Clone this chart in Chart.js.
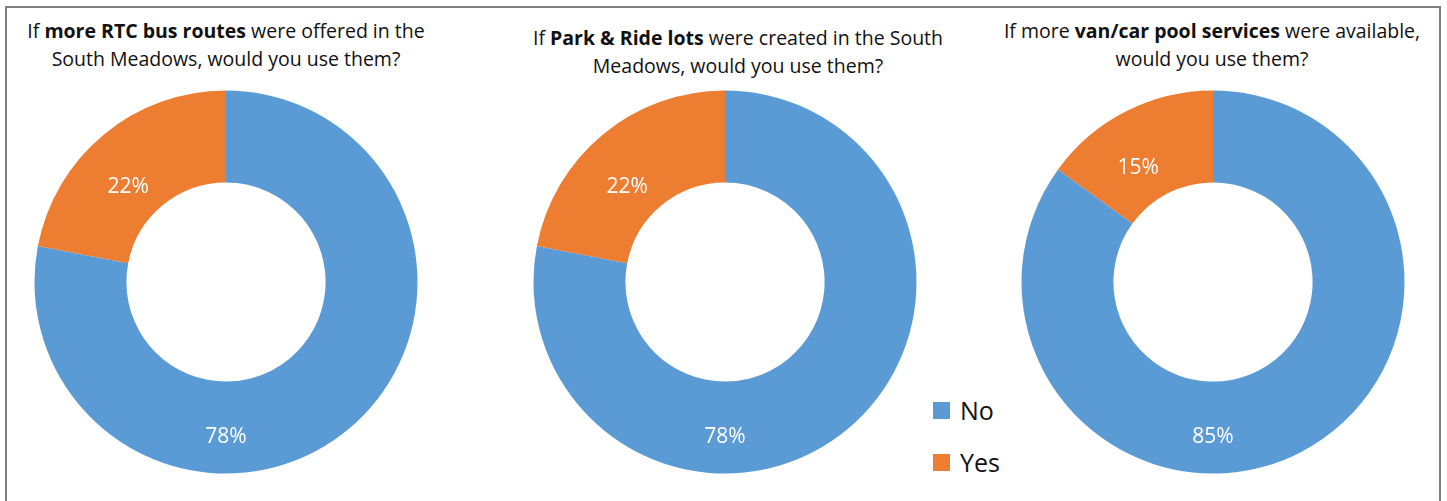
<!DOCTYPE html>
<html>
<head>
<meta charset="utf-8">
<script src="https://cdn.jsdelivr.net/npm/chart.js@4"></script>
<style>
  body { margin: 0; width: 1447px; height: 501px; overflow: hidden; background: #fff; font-family: "Open Sans", Lato, sans-serif; }
  #frame { position: absolute; left: 5px; top: 6px; width: 1436px; height: 510px; border: 2px solid #7f7f7f; box-sizing: border-box; }
  .pie { position: absolute; top: 87px; width: 390px; height: 390px; }
  .title { position: absolute; width: 500px; text-align: center; font-size: 19.5px; line-height: 28px; color: #111; }
  #legend { position: absolute; left: 933px; top: 384px; font-size: 25px; color: #111; }
  .item { display: flex; align-items: center; height: 52px; }
  .box { width: 17px; height: 17px; margin-right: 10px; }
</style>
</head>
<body>
<div id="frame"></div>
<div class="title" style="left:-24px; top:17px;">If <b>more RTC bus routes</b> were offered in the<br>South Meadows, would you use them?</div>
<div class="title" style="left:488px; top:24px;">If <b>Park &amp; Ride lots</b> were created in the South<br>Meadows, would you use them?</div>
<div class="title" style="left:962px; top:17px;">If more <b>van/car pool services</b> were available,<br>would you use them?</div>
<div class="pie" style="left:31px;"><canvas id="c1"></canvas></div>
<div class="pie" style="left:530px;"><canvas id="c2"></canvas></div>
<div class="pie" style="left:1018px;"><canvas id="c3"></canvas></div>
<div id="legend"></div>
<script>
const categories = ['No', 'Yes'];
const busRoutes = [78, 22];
const parkRide = [78, 22];
const carPool = [85, 15];
const colors = ['#5B9BD5', '#ED7D31'];

// white percentage labels in the ring
const ringLabels = {
    id: 'ringLabels',
    afterDatasetsDraw(chart) {
        const ctx = chart.ctx;
        const values = chart.data.datasets[0].data;
        ctx.save();
        ctx.fillStyle = '#fff';
        ctx.font = '21px "Open Sans", Lato, sans-serif';
        ctx.textAlign = 'center';
        ctx.textBaseline = 'middle';
        chart.getDatasetMeta(0).data.forEach(function (arc, i) {
            const p = arc.getProps(['x', 'y', 'startAngle', 'endAngle', 'innerRadius', 'outerRadius'], true);
            const big = values[i] > 50;
            const ang = big ? Math.PI / 2 : (p.startAngle + p.endAngle) / 2 - 0.11;
            const r = p.innerRadius + (p.outerRadius - p.innerRadius) * (big ? 0.6 : 0.4);
            ctx.fillText(values[i] + '%', p.x + r * Math.cos(ang), p.y + r * Math.sin(ang));
        });
        ctx.restore();
    }
};

function makePie(id, values) {
    new Chart(document.getElementById(id), {
        type: 'doughnut',
        data: {
            labels: categories,
            datasets: [{
                data: values,
                backgroundColor: colors,
                borderWidth: 0,
            }],
        },
        options: {
            responsive: true,
            maintainAspectRatio: false,
            animation: false,
            cutout: '52%',
            layout: { padding: 3.5 },
            plugins: {
                legend: { display: false },
                tooltip: { enabled: false },
            },
        },
        plugins: [ringLabels],
    });
}

makePie('c1', busRoutes);
makePie('c2', parkRide);
makePie('c3', carPool);

const legend = document.getElementById('legend');
categories.forEach(function (name, i) {
    const row = document.createElement('div');
    row.className = 'item';
    row.innerHTML = '<span class="box" style="background:' + colors[i] + '"></span>' + name;
    legend.appendChild(row);
});
</script>
</body>
</html>
